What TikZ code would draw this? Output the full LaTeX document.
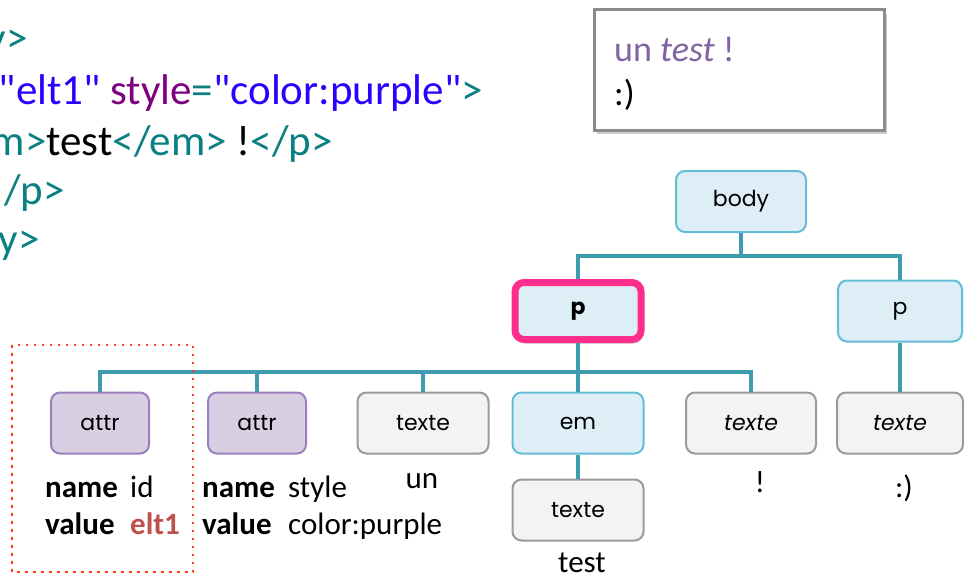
\documentclass[tikz,border=0pt]{standalone}
\usepackage{fontspec}
\setmainfont{Carlito}[Ligatures=TeXOff]
\newfontfamily\treefont{Poppins}
\usetikzlibrary{shadows}

\definecolor{tagcol}{HTML}{0A8080}
\definecolor{valcol}{HTML}{2A00FF}
\definecolor{attcol}{HTML}{7F007F}
\definecolor{outcol}{HTML}{8064A2}
\definecolor{elemfill}{HTML}{DEEEF6}
\definecolor{elemline}{HTML}{63BDD6}
\definecolor{attrfill}{HTML}{D8CFE3}
\definecolor{attrline}{HTML}{9B80BD}
\definecolor{textfill}{HTML}{F3F3F3}
\definecolor{textline}{HTML}{9A9A9A}
\definecolor{connline}{HTML}{3E9BB0}
\definecolor{pinkline}{HTML}{FF2E8C}
\definecolor{eltcol}{HTML}{C0504D}
\definecolor{dotcol}{HTML}{FF3B1F}

\def\kante#1#2#3{\draw[conn] (#1.south) -- (#1.south |- #3) -| (#2.north);}

\begin{document}
\begin{tikzpicture}[x=1pt,y=-1pt,
  box/.style={rounded corners=9pt,line width=2pt,minimum height=61pt,inner sep=0pt,
    font=\treefont\fontsize{22}{22}\selectfont},
  elem/.style={box,fill=elemfill,draw=elemline,minimum width=130pt},
  attrbox/.style={box,fill=attrfill,draw=attrline,minimum width=98pt},
  textbox/.style={box,fill=textfill,draw=textline,minimum width=131pt},
  conn/.style={draw=connline,line width=4pt},
  code/.style={anchor=base east,inner sep=0pt,font=\fontsize{43}{50}\selectfont},
  lbl/.style={anchor=base,inner sep=0pt,font=\fontsize{31}{37}\selectfont},
  info/.style={anchor=base west,inner sep=0pt,font=\fontsize{31}{37}\selectfont}]
\useasboundingbox (0,0) rectangle (964,578);
% source code, cut at the left
\node[code] (c1) at (28,53) {\color{tagcol}y>};
\node[code] (c2) at (483,104) {\color{valcol}"elt1" \color{attcol}style\color{tagcol}=\color{valcol}"color:purple"\color{tagcol}>};
\node[code] (c3) at (333,155) {\color{tagcol}m>\color{black}test\color{tagcol}</em>\color{black}{} !\color{tagcol}</p>};
\node[code] (c4) at (65,204) {\color{tagcol}</p>};
\node[code] (c5) at (40,253) {\color{tagcol}y>};
% rendering
\node[draw=gray!90,line width=3pt,fill=white,minimum width=290pt,minimum height=120pt,
  drop shadow={shadow xshift=3pt,shadow yshift=-4pt,opacity=.4}] (out) at (739,70) {};
\node[anchor=base west,inner sep=0pt,font=\fontsize{36}{43}\selectfont,text=outcol] (o1) at (614,62) {un \textit{test} !};
\node[anchor=base west,inner sep=0pt,font=\fontsize{36}{43}\selectfont] (o2) at (614,105) {:)};
% tree
\coordinate (B) at (741,201.5);
\coordinate (P1) at (578,311);
\coordinate (P2) at (900,311);
\coordinate (A1) at (100,423);
\coordinate (A2) at (257,423);
\coordinate (T1) at (423,423);
\coordinate (E) at (578,423);
\coordinate (T2) at (751,423);
\coordinate (T3) at (900,423);
\coordinate (T4) at (578,510);
\coordinate (J0) at (741,256);
\coordinate (J1) at (578,372);
\node[elem] (body) at (B) {body};
\node[elem,draw=pinkline,line width=7pt,minimum width=126pt,minimum height=57pt,
  drop shadow={shadow xshift=2pt,shadow yshift=-4pt,opacity=.4}] (p1) at (P1) {\bfseries p};
\node[elem,minimum width=124pt] (p2) at (P2) {p};
\node[attrbox] (a1) at (A1) {attr};
\node[attrbox] (a2) at (A2) {attr};
\node[textbox] (t1) at (T1) {texte};
\node[elem,minimum width=131pt] (em) at (E) {em};
\node[textbox,minimum width=130pt] (t2) at (T2) {\itshape texte};
\node[textbox,minimum width=126pt] (t3) at (T3) {\itshape texte};
\node[textbox] (t4) at (T4) {texte};
\kante{body}{p1}{J0}
\kante{body}{p2}{J0}
\kante{p1}{a1}{J1}
\kante{p1}{a2}{J1}
\kante{p1}{t1}{J1}
\kante{p1}{em}{J1}
\kante{p1}{t2}{J1}
\draw[conn] (p2) -- (t3);
\draw[conn] (em) -- (t4);
% texts under the nodes
\node[lbl] (l1) at (422,488) {un};
\node[lbl] (l2) at (760,492) {!};
\node[lbl] (l3) at (904,497) {:)};
\node[lbl] (l4) at (582,572) {test};
\node[info] (n1) at (45,497) {\makebox[85pt][l]{\textbf{name}}id};
\node[info] (v1) at (45,534) {\makebox[85pt][l]{\textbf{value}}\textbf{\color{eltcol}elt1}};
\node[info] (n2) at (202,497) {\makebox[86pt][l]{\textbf{name}}style};
\node[info] (v2) at (202,534) {\makebox[86pt][l]{\textbf{value}}color:purple};
\draw[dotcol,line width=2.5pt,dash pattern=on 2.5pt off 5.5pt] (12,345) rectangle (193,572);
\end{tikzpicture}
\end{document}
